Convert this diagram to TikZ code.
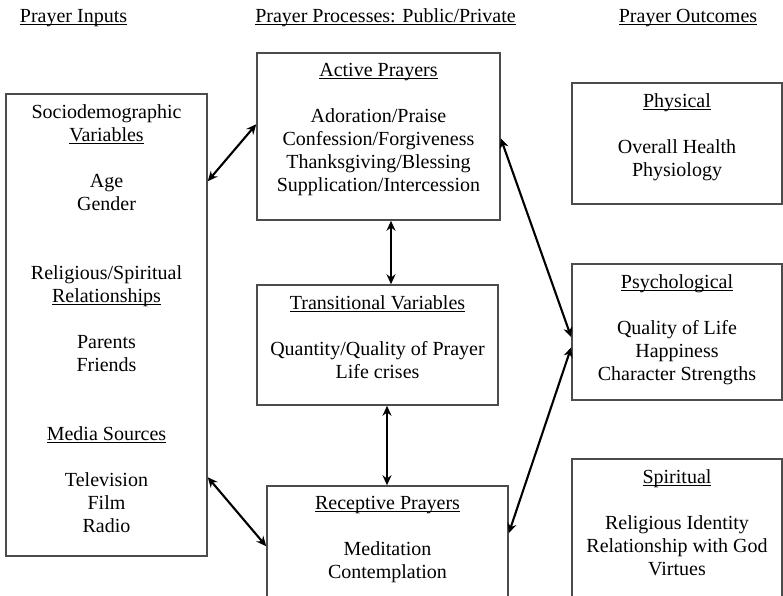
\documentclass[tikz,border=0pt]{standalone}
\usepackage{fontspec}
\setmainfont{Liberation Serif}
\usetikzlibrary{positioning,arrows.meta}

\newcommand{\uln}[1]{\leavevmode\setbox0\hbox{#1}\rlap{\rule[-2.4pt]{\wd0}{1.2pt}}\box0}

\tikzset{
  box/.style={draw=black!70, line width=1.5pt, inner sep=0pt},
  txt/.style={align=center, inner sep=0pt, text=black,
    font=\fontsize{20}{23}\selectfont},
  link/.style={black, line width=2.1pt,
    {Stealth[length=10pt,width=9pt]}-{Stealth[length=10pt,width=9pt]}}
}

\begin{document}
\begin{tikzpicture}[x=1pt,y=-1pt]
  \clip (0,0) rectangle (783,595);

  % column headings
  \node[txt, anchor=base] (hinputs) at (73.5,22.5) {\uln{Prayer Inputs}};
  \node[txt, anchor=base] (hprocess) at (385.5,22.5) {\uln{Prayer Processes: Public/Private}};
  \node[txt, anchor=base] (houtcomes) at (688,22.5) {\uln{Prayer Outcomes}};

  % inputs
  \node[box, minimum width=201pt, minimum height=462pt] (inputs) at (106.5,325) {};
  \node[txt, below=11pt of inputs.north] (inputstxt) {Sociodemographic\\ \uln{Variables}\\[23pt]
    Age\\ Gender\\[46pt]
    Religious/Spiritual\\ \uln{Relationships}\\[23pt]
    Parents\\ Friends\\[46pt]
    \uln{Media Sources}\\[23pt]
    Television\\ Film\\ Radio};

  % processes
  \node[box, minimum width=243pt, minimum height=167pt] (act) at (378.5,136.5) {};
  \node[txt, below=11pt of act.north] (acttxt) {\uln{Active Prayers}\\[23pt]
    Adoration/Praise\\ Confession/Forgiveness\\ Thanksgiving/Blessing\\ Supplication/Intercession};

  \node[box, minimum width=241pt, minimum height=120pt] (trans) at (377.5,345) {};
  \node[txt, below=11pt of trans.north] (transtxt) {\uln{Transitional Variables}\\[23pt]
    Quantity/Quality of Prayer\\ Life crises};

  \node[box, minimum width=241pt, minimum height=134pt] (rec) at (387.5,553) {};
  \node[txt, below=11pt of rec.north] (rectxt) {\uln{Receptive Prayers}\\[23pt]
    Meditation\\ Contemplation};

  % outcomes
  \node[box, minimum width=210pt, minimum height=121pt] (phys) at (677,143.5) {};
  \node[txt, below=11pt of phys.north] (physttxt) {\uln{Physical}\\[23pt]
    Overall Health\\ Physiology};

  \node[box, minimum width=210pt, minimum height=136pt] (psy) at (677,332) {};
  \node[txt, below=11pt of psy.north] (psytxt) {\uln{Psychological}\\[23pt]
    Quality of Life\\ Happiness\\ Character Strengths};

  \node[box, minimum width=210pt, minimum height=161pt] (spir) at (677,539.5) {};
  \node[txt, below=11pt of spir.north] (spirtxt) {\uln{Spiritual}\\[23pt]
    Religious Identity\\ Relationship with God\\ Virtues};

  % links
  \draw[link] ([yshift=-88pt]inputs.north east) -- ([yshift=-72pt]act.north west);
  \draw[link] ([yshift=-384pt]inputs.north east) -- ([yshift=-61pt]rec.north west);
  \draw[link] ([xshift=12.5pt]act.south) -- ([xshift=13.5pt]trans.north);
  \draw[link] ([xshift=9.5pt]trans.south) -- ([xshift=-0.5pt]rec.north);
  \draw[link] ([yshift=-86pt]act.north east) -- ([yshift=-74pt]psy.north west);
  \draw[link] ([yshift=-48pt]rec.north east) -- ([yshift=-84pt]psy.north west);
\end{tikzpicture}
\end{document}
